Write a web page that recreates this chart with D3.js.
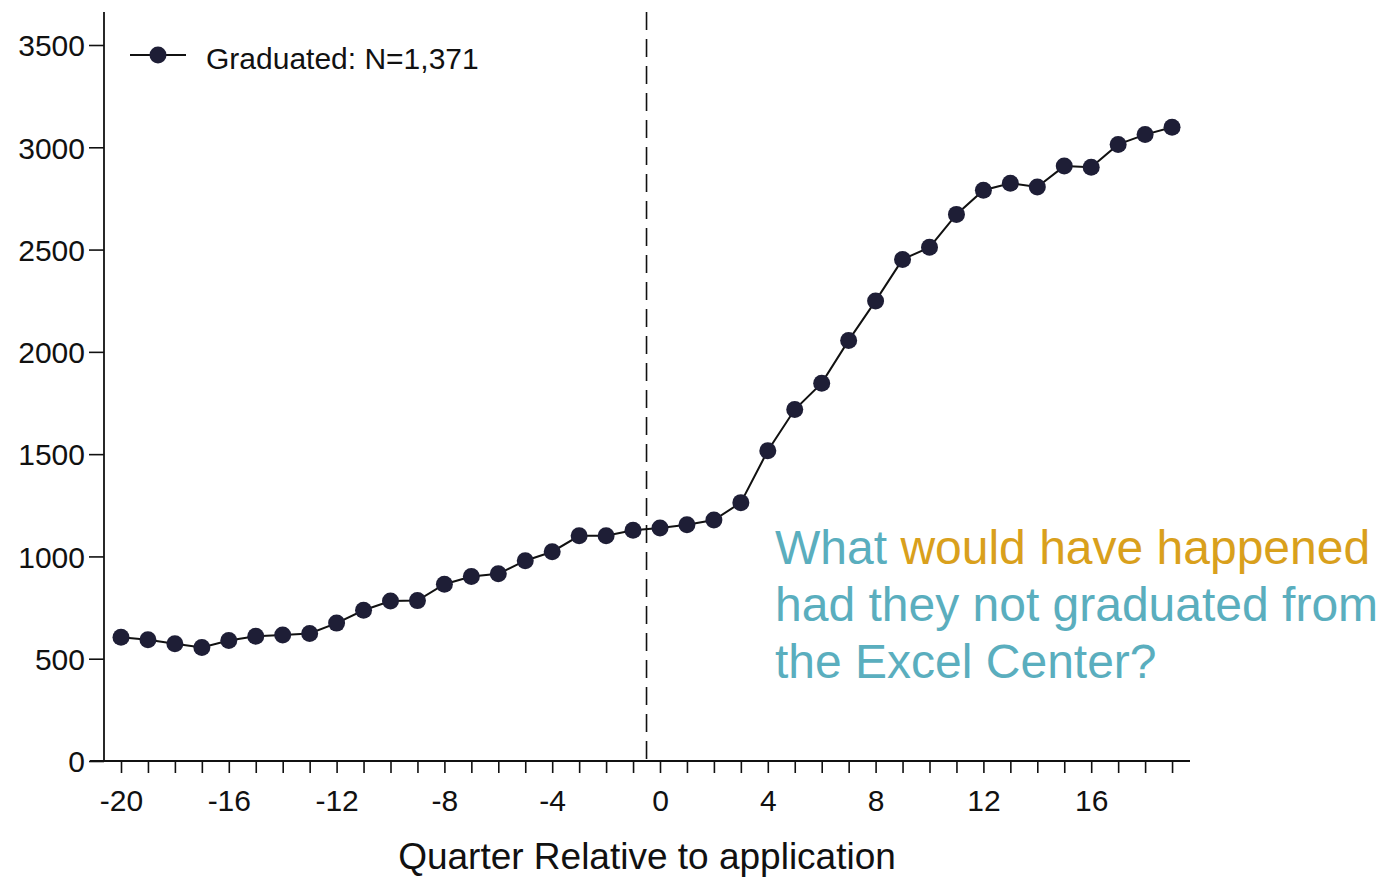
<!DOCTYPE html>
<html>
<head>
<meta charset="utf-8">
<script src="https://cdn.jsdelivr.net/npm/d3@7"></script>
<style>
  html, body { margin: 0; padding: 0; background: #ffffff; }
  svg { display: block; }
  text { font-family: "Liberation Sans", Arial, Helvetica, sans-serif; }
</style>
</head>
<body>
<svg id="chart" width="1381" height="877"></svg>
<script>
// ---- data ----
const quarters = [-20,-19,-18,-17,-16,-15,-14,-13,-12,-11,-10,-9,-8,-7,-6,-5,-4,-3,-2,-1,0,1,2,3,4,5,6,7,8,9,10,11,12,13,14,15,16,17,18,19];
const earnings = [605,593,573,555,589,610,616,623,674,737,782,784,864,902,915,979,1023,1101,1101,1128,1139,1155,1178,1263,1517,1718,1847,2056,2249,2452,2511,2672,2790,2824,2806,2908,2902,3014,3062,3098];
const xTickLabels = [-20,-16,-12,-8,-4,0,4,8,12,16];
const yTickLabels = [0,500,1000,1500,2000,2500,3000,3500];
const legendLabel = "Graduated: N=1,371";
const xTitle = "Quarter Relative to application";
const cutoff = -0.5;
const annotation = [
  [{t:"What ", c:"teal"}, {t:"would have happened", c:"gold"}],
  [{t:"had they not graduated from", c:"teal"}],
  [{t:"the Excel Center?", c:"teal"}]
];

// ---- layout ----
const svg = d3.select("#chart");
const colors = { teal: "#5aaebe", gold: "#d9a01c" };
const dotColor = "#1e1e36";

const x = d3.scaleLinear().domain([-20, 0]).range([121, 660]);
const y = d3.scaleLinear().domain([0, 3500]).range([761, 45]);

const axisLeftX = 104;
const axisTop = 12;
const axisRight = 1190;

// y axis
const yAxis = svg.append("g").attr("transform", `translate(${axisLeftX},0)`)
  .call(d3.axisLeft(y).tickValues(yTickLabels).tickSize(15).tickPadding(4).tickFormat(d3.format("d")));
yAxis.select(".domain").remove();
yAxis.selectAll(".tick line").attr("stroke", "#111").attr("stroke-width", 1.6);
yAxis.selectAll(".tick text").attr("font-size", 30).attr("fill", "#111").attr("dy", "0.36em")
  .attr("font-family", '"Liberation Sans", Arial, sans-serif');
svg.append("line").attr("x1", axisLeftX).attr("x2", axisLeftX).attr("y1", axisTop).attr("y2", y(0))
  .attr("stroke", "#111").attr("stroke-width", 1.8);

// x axis
const xAxis = svg.append("g").attr("transform", `translate(0,${y(0)})`)
  .call(d3.axisBottom(x).tickValues(quarters).tickSize(12).tickPadding(17)
    .tickFormat(d => xTickLabels.includes(d) ? d3.format("d")(d).replace("\u2212", "-") : ""));
xAxis.select(".domain").remove();
xAxis.selectAll(".tick line").attr("stroke", "#111").attr("stroke-width", 1.6);
xAxis.selectAll(".tick text").attr("font-size", 30).attr("fill", "#111")
  .attr("font-family", '"Liberation Sans", Arial, sans-serif');
svg.append("line").attr("x1", axisLeftX - 14).attr("x2", axisRight).attr("y1", y(0)).attr("y2", y(0))
  .attr("stroke", "#111").attr("stroke-width", 1.8);

// x title
svg.append("text").attr("x", 647).attr("y", 869).attr("text-anchor", "middle")
  .attr("font-size", 37).attr("fill", "#111").text(xTitle);

// dashed cutoff line
svg.append("line").attr("x1", x(cutoff)).attr("x2", x(cutoff)).attr("y1", axisTop).attr("y2", y(0))
  .attr("stroke", "#111").attr("stroke-width", 1.6).attr("stroke-dasharray", "18,9");

// series line
const pts = quarters.map((q, i) => ({ q, v: earnings[i] }));
svg.append("path").datum(pts)
  .attr("fill", "none").attr("stroke", "#111").attr("stroke-width", 2)
  .attr("d", d3.line().x(d => x(d.q)).y(d => y(d.v)));

svg.append("g").selectAll("circle").data(pts).join("circle")
  .attr("cx", d => x(d.q)).attr("cy", d => y(d.v)).attr("r", 8.5)
  .attr("fill", dotColor);

// legend
const lg = svg.append("g");
lg.append("line").attr("x1", 130).attr("x2", 186).attr("y1", 55).attr("y2", 55)
  .attr("stroke", "#111").attr("stroke-width", 2);
lg.append("circle").attr("cx", 158).attr("cy", 55).attr("r", 8.5).attr("fill", dotColor);
lg.append("text").attr("x", 206).attr("y", 69).attr("font-size", 30).attr("fill", "#111").text(legendLabel);

// annotation
const ann = svg.append("text").attr("x", 775).attr("y", 564).attr("font-size", 48);
annotation.forEach((line, li) => {
  line.forEach((seg, si) => {
    const ts = ann.append("tspan").attr("fill", colors[seg.c]).text(seg.t);
    if (si === 0) ts.attr("x", 775).attr("dy", li === 0 ? 0 : 57);
  });
});
</script>
</body>
</html>
